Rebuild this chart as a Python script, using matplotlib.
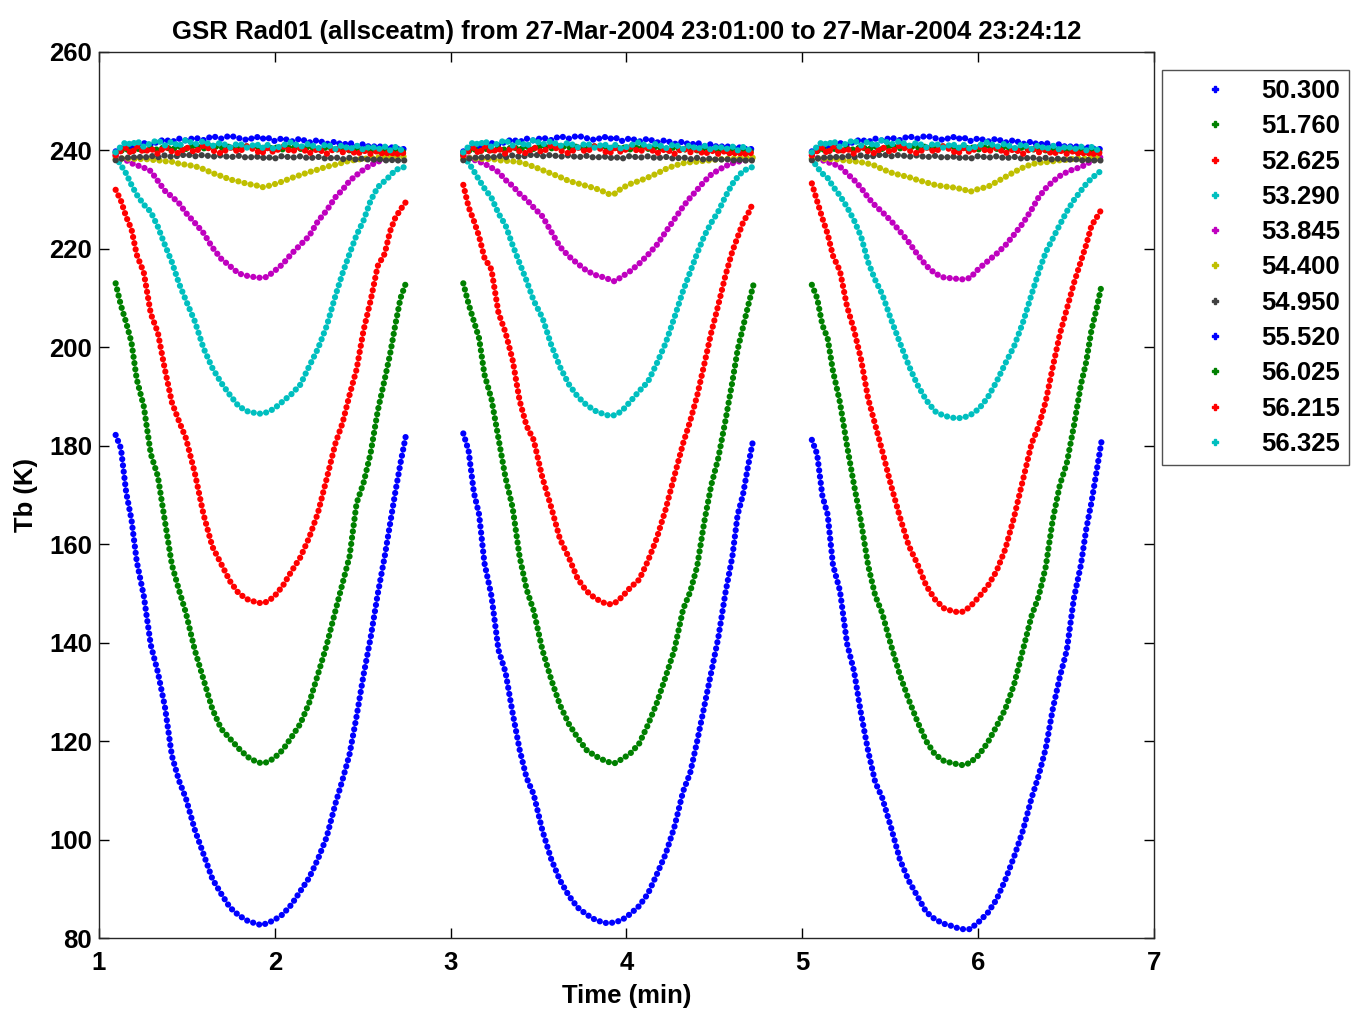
import matplotlib
matplotlib.use('Agg')
import matplotlib.pyplot as plt
from matplotlib.lines import Line2D

plt.rcParams['font.family'] = ['Liberation Sans', 'DejaVu Sans']
plt.rcParams['font.weight'] = 'bold'

# scan layout: start time (min) of each of the three scans, sample offsets inside a scan
scan_start = [1.095, 3.072, 5.054]
scan_offset = [0.00, 0.03, 0.06, 0.09, 0.12, 0.16, 0.20, 0.24, 0.28, 0.32, 0.36,
               0.40, 0.45, 0.50, 0.55, 0.60, 0.65, 0.70, 0.75, 0.80, 0.83, 0.86,
               0.90, 0.95, 1.00, 1.05, 1.10, 1.15, 1.20, 1.25, 1.29, 1.33, 1.37,
               1.41, 1.45, 1.49, 1.53, 1.56, 1.59, 1.62, 1.65]

channels = ['50.300', '51.760', '52.625', '53.290', '53.845', '54.400',
            '54.950', '55.520', '56.025', '56.215', '56.325']
colors = ['#0000ff', '#008000', '#ff0000', '#00bfbf', '#bf00bf', '#bfbf00',
          '#404040', '#0000ff', '#008000', '#ff0000', '#00bfbf']

# Tb (K), one list per scan
tb_50300 = [
    [182.2, 179.5, 170.5, 165.0, 156.5, 149.5, 139.5, 134.0, 127.0, 117.0, 112.0,
     108.3, 102.0, 97.0, 92.0, 89.0, 86.2, 84.6, 83.5, 82.9, 82.6, 83.0,
     83.6, 84.8, 86.8, 89.5, 92.2, 96.0, 100.5, 107.3, 112.1, 117.3, 125.0,
     133.5, 141.0, 149.8, 157.5, 164.0, 170.5, 176.5, 182.0],
    [182.5, 179.0, 170.5, 166.0, 156.2, 149.5, 138.5, 134.0, 125.8, 118.3, 112.5,
     109.2, 101.8, 96.0, 91.7, 88.6, 86.2, 84.8, 83.7, 83.1, 83.0, 83.2,
     83.6, 84.9, 86.5, 89.0, 92.9, 97.0, 102.5, 109.8, 113.5, 120.0, 127.0,
     134.0, 141.0, 150.0, 157.5, 166.0, 170.0, 176.0, 181.5],
    [181.2, 178.3, 169.8, 166.0, 155.8, 150.5, 139.8, 134.2, 125.5, 118.0, 111.7,
     108.5, 102.5, 96.0, 91.7, 88.5, 85.3, 83.8, 82.9, 82.4, 82.0, 81.8,
     81.8, 83.3, 85.1, 87.8, 91.8, 96.5, 101.8, 108.5, 113.0, 118.5, 126.5,
     133.0, 138.5, 149.0, 155.8, 163.0, 168.5, 175.0, 181.5],
]
tb_51760 = [
    [213.0, 208.5, 205.0, 201.0, 193.5, 188.0, 178.3, 173.8, 164.7, 155.8, 150.7,
     146.0, 138.5, 132.5, 126.5, 122.5, 120.5, 118.5, 116.8, 115.8, 115.5, 115.7,
     116.5, 118.2, 120.8, 123.5, 127.7, 133.5, 139.5, 146.5, 152.0, 157.5, 168.3,
     172.5, 178.5, 187.0, 193.5, 198.5, 204.5, 210.0, 213.0],
    [213.0, 208.8, 205.3, 201.8, 194.5, 189.5, 181.5, 173.5, 167.5, 157.5, 150.8,
     146.5, 138.5, 132.5, 127.3, 123.5, 120.7, 118.2, 117.0, 116.1, 115.7, 115.5,
     116.3, 117.5, 119.5, 123.3, 127.7, 133.0, 138.5, 146.8, 150.3, 155.5, 164.5,
     172.0, 177.5, 185.0, 193.0, 199.5, 204.0, 208.5, 212.7],
    [212.7, 210.0, 204.5, 201.8, 195.2, 188.8, 180.0, 172.0, 164.5, 155.7, 149.6,
     146.0, 139.5, 133.5, 128.5, 124.0, 120.0, 117.3, 116.0, 115.5, 115.3, 115.1,
     115.6, 117.2, 119.7, 123.0, 126.5, 131.5, 138.5, 145.5, 149.4, 155.4, 165.0,
     172.0, 176.5, 184.0, 192.4, 197.0, 203.5, 208.0, 213.0],
]
tb_52625 = [
    [232.0, 229.8, 226.5, 224.0, 218.8, 215.2, 206.8, 203.0, 195.5, 188.8, 185.0,
     181.5, 174.5, 166.0, 159.5, 156.0, 152.5, 150.0, 148.8, 148.2, 148.0, 148.3,
     149.3, 151.5, 154.5, 157.3, 161.3, 166.3, 173.3, 180.5, 184.6, 190.3, 195.5,
     203.5, 209.5, 216.5, 219.0, 223.5, 226.3, 228.0, 229.5],
    [233.0, 228.5, 225.7, 222.5, 218.2, 215.8, 207.0, 203.0, 197.5, 189.2, 184.0,
     181.2, 173.5, 167.5, 161.0, 157.3, 153.0, 150.5, 149.0, 148.1, 147.8, 148.0,
     149.2, 151.2, 152.8, 156.6, 161.2, 167.0, 173.8, 180.5, 185.0, 190.2, 196.5,
     203.0, 208.6, 214.5, 219.5, 222.4, 225.3, 227.2, 229.5],
    [233.3, 229.7, 226.2, 223.0, 218.6, 215.5, 208.3, 203.5, 197.5, 189.6, 184.3,
     179.0, 172.0, 165.6, 159.8, 156.0, 151.6, 148.8, 147.0, 146.4, 146.2, 146.3,
     147.3, 149.3, 151.5, 154.5, 159.0, 165.5, 173.0, 180.5, 184.0, 189.0, 196.0,
     202.6, 207.8, 213.0, 217.5, 220.8, 224.7, 226.4, 228.2],
]
tb_53290 = [
    [238.7, 237.0, 235.3, 233.0, 231.0, 229.0, 227.5, 224.5, 220.8, 217.3, 213.0,
     209.5, 205.3, 199.8, 195.8, 192.8, 190.3, 188.0, 187.0, 186.6, 186.5, 186.8,
     187.5, 189.0, 190.5, 192.4, 196.1, 199.7, 204.3, 210.5, 215.0, 219.0, 222.8,
     225.8, 229.8, 232.5, 233.8, 234.8, 236.0, 236.4, 236.7],
    [238.7, 237.5, 235.8, 234.0, 232.3, 230.4, 227.2, 224.8, 220.8, 217.1, 213.5,
     209.5, 206.0, 200.5, 196.0, 192.5, 190.0, 188.3, 187.1, 186.4, 186.1, 186.2,
     187.0, 189.0, 191.1, 193.0, 196.7, 200.8, 206.0, 211.5, 215.3, 219.1, 222.6,
     225.3, 227.6, 230.6, 233.2, 234.6, 235.8, 236.3, 236.7],
    [238.3, 236.6, 235.3, 234.4, 232.7, 230.8, 228.5, 225.8, 222.5, 217.3, 213.7,
     210.8, 205.7, 201.0, 196.4, 192.4, 189.3, 187.0, 186.1, 185.7, 185.6, 185.7,
     186.2, 187.5, 189.8, 193.0, 196.7, 200.2, 205.0, 210.8, 215.3, 219.3, 222.1,
     224.9, 227.6, 229.9, 231.8, 233.2, 234.3, 235.2, 236.0],
]
tb_53845 = [
    [239.0, 238.4, 238.0, 237.4, 237.0, 236.5, 235.8, 233.8, 231.8, 230.6, 229.3,
     227.3, 225.3, 223.2, 220.3, 218.0, 216.5, 215.0, 214.5, 214.2, 214.1, 214.3,
     215.4, 216.9, 219.0, 220.8, 222.6, 225.6, 227.8, 230.5, 232.0, 233.8, 235.0,
     236.1, 237.0, 237.7, 238.2, 238.6, 238.9, 239.2, 239.4],
    [239.0, 238.6, 238.1, 237.7, 237.3, 236.5, 235.6, 234.0, 232.8, 231.2, 230.0,
     228.4, 226.6, 223.5, 220.4, 218.5, 217.0, 215.6, 214.7, 214.2, 213.8, 213.4,
     214.3, 215.5, 217.0, 218.8, 220.8, 223.4, 226.0, 228.6, 230.4, 232.0, 233.7,
     235.1, 236.0, 236.8, 237.4, 237.7, 237.9, 238.1, 238.3],
    [239.0, 238.5, 238.0, 237.6, 237.3, 236.7, 235.3, 234.0, 232.4, 230.4, 228.8,
     227.5, 225.7, 223.6, 221.4, 218.9, 216.6, 215.0, 214.2, 214.0, 213.9, 213.8,
     214.1, 216.0, 217.5, 219.0, 220.7, 222.9, 225.2, 228.0, 230.5, 232.3, 233.7,
     234.8, 235.6, 236.2, 236.6, 237.2, 237.8, 238.3, 238.7],
]
tb_54400 = [
    [238.2, 238.4, 238.3, 238.4, 238.2, 238.3, 238.1, 238.0, 237.8, 237.7, 237.3,
     237.1, 236.8, 236.2, 235.4, 234.8, 234.1, 233.7, 233.2, 232.9, 232.5, 232.7,
     233.1, 233.7, 234.4, 235.0, 235.6, 236.1, 236.7, 237.1, 237.5, 237.9, 238.1,
     238.3, 238.4, 238.6, 238.5, 238.7, 238.6, 238.8, 238.7],
    [238.3, 238.5, 238.3, 238.4, 238.2, 238.3, 238.0, 237.9, 237.8, 237.6, 237.2,
     236.7, 236.0, 235.3, 234.6, 233.8, 233.3, 232.8, 232.3, 231.6, 231.1, 231.2,
     232.3, 233.2, 233.8, 234.5, 235.3, 236.2, 236.9, 237.4, 237.6, 237.7, 237.9,
     238.0, 238.2, 238.3, 238.3, 238.5, 238.4, 238.6, 238.5],
    [238.3, 238.4, 238.3, 238.2, 238.3, 238.1, 237.9, 237.8, 237.6, 237.3, 236.9,
     236.2, 235.5, 235.0, 234.6, 234.0, 233.5, 233.0, 232.7, 232.5, 232.3, 232.1,
     231.6, 232.2, 232.6, 233.6, 234.6, 235.6, 236.5, 237.2, 237.5, 237.6, 237.8,
     238.0, 238.1, 238.3, 238.4, 238.3, 238.5, 238.4, 238.6],
]
# upper channels are flat, the same scan shape repeats in all three scans
tb_54950 = [238.0, 238.3, 238.6, 238.4, 238.8, 238.5, 238.9, 238.6, 239.0, 238.7, 238.9,
            239.2, 238.8, 239.1, 238.7, 239.0, 238.6, 238.9, 238.5, 238.8, 238.4, 238.7,
            238.3, 238.9, 238.5, 238.8, 238.4, 238.7, 238.3, 238.6, 238.2, 238.5, 238.1,
            238.4, 238.0, 238.3, 237.9, 238.2, 237.8, 238.1, 237.9]
tb_55520 = [239.8, 240.4, 240.9, 240.5, 241.2, 241.5, 241.0, 241.8, 242.2, 241.7, 242.4,
            242.0, 242.6, 242.1, 242.9, 242.4, 243.0, 242.5, 242.1, 242.8, 242.3, 242.7,
            241.9, 242.5, 241.8, 242.4, 241.6, 242.1, 241.3, 241.8, 241.1, 241.6, 240.8,
            241.3, 240.6, 241.0, 240.4, 240.8, 240.2, 240.5, 240.1]
tb_56025 = [239.5, 239.9, 240.3, 239.7, 240.4, 240.0, 240.5, 240.1, 240.7, 240.2, 240.8,
            240.3, 240.9, 240.4, 241.0, 240.5, 240.8, 240.3, 240.9, 240.4, 240.8, 240.3,
            240.7, 240.2, 240.8, 240.3, 240.7, 240.2, 240.6, 240.1, 240.5, 240.0, 240.4,
            239.9, 240.3, 239.8, 240.2, 239.7, 240.1, 239.6, 239.9]
tb_56215 = [239.0, 239.9, 240.6, 239.3, 240.9, 239.6, 240.4, 239.3, 240.8, 239.8, 239.4,
            240.7, 239.6, 241.0, 240.0, 239.4, 240.6, 239.7, 240.9, 239.9, 239.3, 240.5,
            239.6, 240.8, 239.7, 240.6, 239.4, 240.3, 239.3, 240.5, 239.6, 240.2, 239.2,
            240.0, 239.3, 239.9, 239.1, 239.8, 239.0, 239.7, 239.2]
tb_56325 = [239.6, 240.8, 241.8, 241.0, 242.0, 240.7, 241.5, 242.1, 241.0, 241.8, 240.8,
            242.2, 241.2, 241.9, 240.9, 241.6, 240.6, 241.5, 240.5, 241.4, 240.4, 241.2,
            240.3, 241.0, 241.7, 240.7, 241.4, 240.4, 241.3, 240.3, 241.1, 240.2, 241.0,
            240.1, 240.9, 240.2, 240.8, 240.0, 240.7, 240.1, 240.5]

tb_all = [tb_50300, tb_51760, tb_52625, tb_53290, tb_53845, tb_54400,
          [tb_54950] * 3, [tb_55520] * 3, [tb_56025] * 3, [tb_56215] * 3, [tb_56325] * 3]

fig = plt.figure(figsize=(13.59, 10.11), dpi=100)
ax = fig.add_axes([0.0728, 0.0722, 0.7764, 0.8764])

for name, col, scans in zip(channels, colors, tb_all):
    for start, tb in zip(scan_start, scans):
        t = [start + o for o in scan_offset]
        ax.plot(t, tb, color=col, lw=4.5, dashes=(0.01, 1.0),
                dash_capstyle='round', solid_capstyle='round')

ax.set_xlim(1, 7)
ax.set_ylim(80, 260)
ax.set_xticks(range(1, 8))
ax.set_yticks(range(80, 261, 20))
ax.tick_params(direction='in', length=7, width=1, top=True, right=True,
               labelsize=18.5, colors='#000000')
ax.tick_params(axis='x', pad=9)
ax.tick_params(axis='y', pad=5)
for s in ax.spines.values():
    s.set_color('#262626')
    s.set_linewidth(1.0)

ax.set_title('GSR Rad01 (allsceatm) from 27-Mar-2004 23:01:00 to 27-Mar-2004 23:24:12',
             fontsize=18.5, fontweight='bold', pad=9)
ax.set_xlabel('Time (min)', fontsize=18.5, fontweight='bold', labelpad=7)
ax.set_ylabel('Tb (K)', fontsize=18.5, fontweight='bold', labelpad=8)

handles = [Line2D([], [], color=c, marker='P', markersize=5, linestyle='none')
           for c in colors]
leg = ax.legend(handles, channels, loc='upper left', bbox_to_anchor=(0.855, 0.9308),
                bbox_transform=fig.transFigure, borderaxespad=0, fontsize=18.5,
                handlelength=3.4, handletextpad=0.1, labelspacing=0.44,
                borderpad=0.35, frameon=True, fancybox=False)
leg.get_frame().set_edgecolor('#262626')
leg.get_frame().set_linewidth(1.0)

fig.savefig('out.png', dpi=100)
